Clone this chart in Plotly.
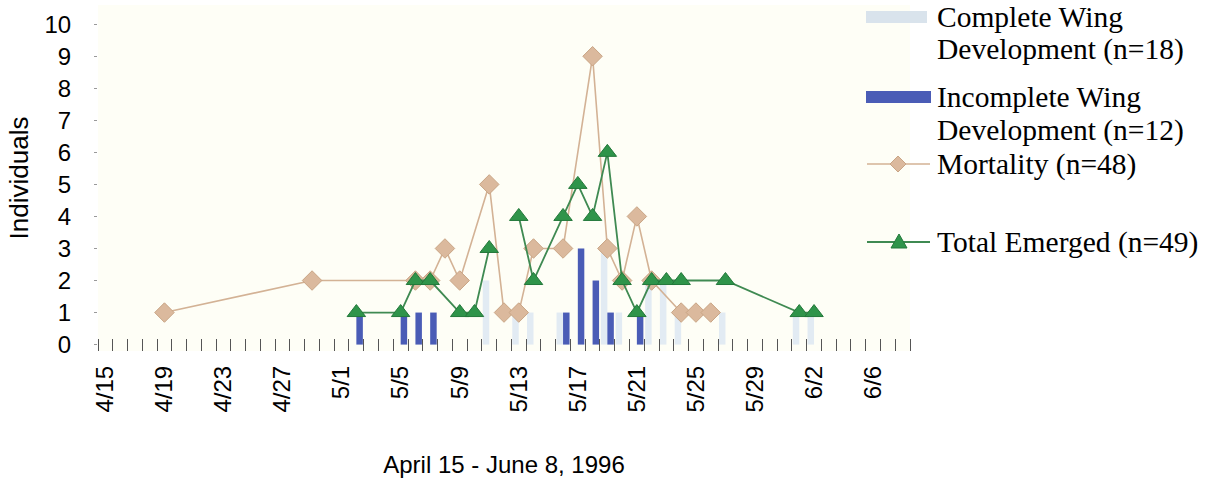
import pandas as pd
import plotly.graph_objects as go

YEAR = 1996

# Axis labels (every fourth day)
tick_labels = ["4/15", "4/19", "4/23", "4/27", "5/1", "5/5", "5/9",
               "5/13", "5/17", "5/21", "5/25", "5/29", "6/2", "6/6"]

# Complete wing development (bars)
complete_dates = ["5/11", "5/13", "5/14", "5/16", "5/19", "5/20",
                  "5/22", "5/23", "5/24", "5/27", "6/1", "6/2"]
complete_vals = [2, 1, 1, 1, 3, 1, 2, 2, 1, 1, 1, 1]

# Incomplete wing development (bars)
incomplete_dates = ["5/2", "5/5", "5/6", "5/7", "5/16", "5/17",
                    "5/18", "5/19", "5/21"]
incomplete_vals = [1, 1, 1, 1, 1, 3, 2, 1, 1]

# Mortality (diamonds)
mortality_dates = ["4/19", "4/29", "5/6", "5/7", "5/8", "5/9", "5/11",
                   "5/12", "5/13", "5/14", "5/16", "5/18", "5/19", "5/20",
                   "5/21", "5/22", "5/24", "5/25", "5/26"]
mortality_vals = [1, 2, 2, 2, 3, 2, 5, 1, 1, 3, 3, 9, 3, 2, 4, 2, 1, 1, 1]

# Total emerged (triangles); no record on 5/12 breaks the line
emerged_dates = ["5/2", "5/5", "5/6", "5/7", "5/9", "5/10", "5/11", "5/12",
                 "5/13", "5/14", "5/16", "5/17", "5/18", "5/19", "5/20",
                 "5/21", "5/22", "5/23", "5/24", "5/27", "6/1", "6/2"]
emerged_vals = [1, 1, 2, 2, 1, 1, 3, None, 4, 2, 4, 5, 4, 6, 2, 1, 2, 2,
                2, 2, 1, 1]

# Legend entries
legend_names = [
    ["Complete Wing", "Development (n=18)"],
    ["Incomplete Wing", "Development (n=12)"],
    ["Mortality (n=48)"],
    ["Total Emerged (n=49)"],
]


def to_dates(labels):
    return pd.to_datetime([f"{YEAR}/{s}" for s in labels], format="%Y/%m/%d")


SANS = "Liberation Sans, Arial, sans-serif"
SERIF = "Liberation Serif, Times New Roman, serif"

COMPLETE_C = "#e2ebf3"
INCOMPLETE_C = "#4a5cb6"
MORT_LINE = "#d3b295"
MORT_FILL = "#dbb99d"
MORT_EDGE = "#c9a585"
EMERG_LINE = "#3f8a52"
EMERG_FILL = "#2f944a"
EMERG_EDGE = "#23783a"

W, H = 1214, 478
ML, MR, MT, MB = 98, 304, 5, 127
PW, PH = W - ML - MR, H - MT - MB


def px(x):
    return (x - ML) / PW


def py(y):
    return (H - MB - y) / PH


fig = go.Figure()

fig.add_trace(go.Bar(
    x=to_dates(complete_dates), y=complete_vals,
    name=" ".join(legend_names[0]),
    marker=dict(color=COMPLETE_C, line=dict(width=0)),
))
fig.add_trace(go.Bar(
    x=to_dates(incomplete_dates), y=incomplete_vals,
    name=" ".join(legend_names[1]),
    marker=dict(color=INCOMPLETE_C, line=dict(width=0)),
))
fig.add_trace(go.Scatter(
    x=to_dates(mortality_dates), y=mortality_vals,
    name=legend_names[2][0],
    mode="lines+markers",
    line=dict(color=MORT_LINE, width=1.6),
    marker=dict(symbol="diamond", size=15, color=MORT_FILL,
                line=dict(color=MORT_EDGE, width=1)),
))
fig.add_trace(go.Scatter(
    x=to_dates(emerged_dates), y=emerged_vals,
    name=legend_names[3][0],
    mode="lines+markers", connectgaps=False,
    line=dict(color=EMERG_LINE, width=1.8),
    marker=dict(symbol="triangle-up", size=16, color=EMERG_FILL,
                line=dict(color=EMERG_EDGE, width=1)),
))

# Legend drawn at the right of the plot: key symbols plus text lines
text_x = 935
line_y = [[17, 50], [97, 130], [164], [242]]
annotations = []
for names, ys in zip(legend_names, line_y):
    for name, yc in zip(names, ys):
        annotations.append(dict(
            x=px(text_x), y=py(yc), xref="paper", yref="paper",
            text=name, showarrow=False, xanchor="left", yanchor="middle",
            font=dict(family=SERIF, size=29.5, color="black"),
        ))

shapes = []
# bar keys
shapes.append(dict(type="rect", xref="paper", yref="paper",
                   x0=px(866), x1=px(927), y0=py(23), y1=py(11),
                   fillcolor="#d9e3ec", line=dict(width=0)))
shapes.append(dict(type="rect", xref="paper", yref="paper",
                   x0=px(866), x1=px(931), y0=py(103), y1=py(91),
                   fillcolor=INCOMPLETE_C, line=dict(width=0)))
# mortality key
my = line_y[2][0]
shapes.append(dict(type="line", xref="paper", yref="paper",
                   x0=px(867), x1=px(930), y0=py(my), y1=py(my),
                   line=dict(color=MORT_LINE, width=1.6)))
d = 8
shapes.append(dict(
    type="path", xref="paper", yref="paper",
    path=(f"M {px(898)},{py(my - d)} L {px(898 + d)},{py(my)} "
          f"L {px(898)},{py(my + d)} L {px(898 - d)},{py(my)} Z"),
    fillcolor=MORT_FILL, line=dict(color=MORT_EDGE, width=1)))
# total emerged key
ey = line_y[3][0]
shapes.append(dict(type="line", xref="paper", yref="paper",
                   x0=px(867), x1=px(930), y0=py(ey), y1=py(ey),
                   line=dict(color=EMERG_LINE, width=1.8)))
shapes.append(dict(
    type="path", xref="paper", yref="paper",
    path=(f"M {px(899)},{py(ey - 8)} L {px(907)},{py(ey + 6)} "
          f"L {px(891)},{py(ey + 6)} Z"),
    fillcolor=EMERG_FILL, line=dict(color=EMERG_EDGE, width=1)))

day = 86400000
fig.update_layout(
    width=W, height=H,
    margin=dict(l=ML, r=MR, t=MT, b=MB),
    paper_bgcolor="white",
    plot_bgcolor="#fefef6",
    barmode="group", bargap=0.12, bargroupgap=0,
    showlegend=False,
    annotations=annotations,
    shapes=shapes,
    xaxis=dict(
        type="date",
        range=["1996-04-14 12:00", "1996-06-08 12:00"],
        tickmode="array",
        tickvals=to_dates(tick_labels),
        ticktext=tick_labels,
        tickangle=-90,
        ticks="",
        ticklabelstandoff=9,
        tickfont=dict(family=SANS, size=24, color="black"),
        minor=dict(ticks="inside", ticklen=12, tickwidth=1,
                   tickcolor="#555555", tick0="1996-04-14 12:00",
                   dtick=day, showgrid=False),
        showgrid=False, showline=False, zeroline=False,
        title=dict(text="April 15 - June 8, 1996", standoff=44,
                   font=dict(family=SANS, size=24, color="black")),
    ),
    yaxis=dict(
        range=[-0.2, 10.6],
        tickmode="array", tickvals=list(range(0, 11)),
        ticks="outside", ticklen=3, tickcolor="#999999",
        ticklabelstandoff=18,
        tickfont=dict(family=SANS, size=24, color="black"),
        showgrid=False, showline=False, zeroline=False,
        title=dict(text="Individuals", standoff=8,
                   font=dict(family=SANS, size=26, color="black")),
    ),
)

fig.write_html("out.html")
